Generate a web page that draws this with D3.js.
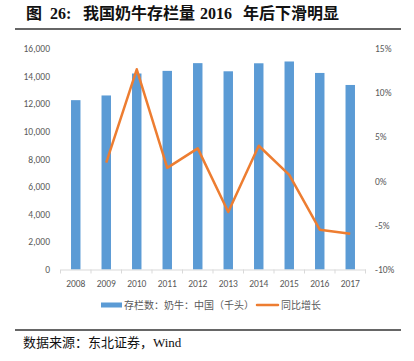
<!DOCTYPE html>
<html>
<head>
<meta charset="utf-8">
<script src="https://cdn.jsdelivr.net/npm/d3@7/dist/d3.min.js"></script>
<style>
  html, body { margin: 0; padding: 0; background: #fff; }
  svg { display: block; }
</style>
</head>
<body>
<div id="chart"></div>
<script>
// ---------- data ----------
const years = ["2008", "2009", "2010", "2011", "2012", "2013", "2014", "2015", "2016", "2017"];
const herd = [12260, 12600, 14190, 14380, 14940, 14350, 14930, 15060, 14230, 13360]; // 千头
const growth = [null, 2.1, 12.65, 1.5, 3.7, -3.5, 4.0, 0.7, -5.5, -5.95]; // %
const leftTicks = [0, 2000, 4000, 6000, 8000, 10000, 12000, 14000, 16000];
const rightTicks = [-10, -5, 0, 5, 10, 15];

const W = 414, H = 361;
const sansCJK = "'Microsoft YaHei', 'Noto Sans CJK SC', sans-serif";
const serifCJK = "'Liberation Serif', 'Times New Roman', 'Noto Sans CJK SC', serif";

const svg = d3.select("#chart").append("svg")
  .attr("width", W)
  .attr("height", H);

// ---------- title + rules ----------
const titleParts = [
  { x: 26, t: "图" },
  { x: 50, t: "26:" },
  { x: 83, t: "我国奶牛存栏量" },
  { x: 200, t: "2016" },
  { x: 243, t: "年后下滑明显" }
];
svg.append("g").selectAll("text")
  .data(titleParts)
  .enter()
  .append("text")
  .attr("x", d => d.x).attr("y", 19)
  .attr("font-family", serifCJK).attr("font-weight", "bold").attr("font-size", 16)
  .attr("fill", "#111").text(d => d.t);

svg.append("line").attr("x1", 15).attr("x2", 401).attr("y1", 29).attr("y2", 29)
  .attr("stroke", "#333").attr("stroke-width", 1.3);
svg.append("line").attr("x1", 15).attr("x2", 401).attr("y1", 330).attr("y2", 330)
  .attr("stroke", "#333").attr("stroke-width", 1.3);

svg.append("text").attr("x", 23).attr("y", 347)
  .attr("font-family", serifCJK).attr("font-size", 13)
  .attr("fill", "#111").text("数据来源：东北证券，Wind");

// ---------- scales ----------
const x = d3.scaleBand().domain(years).range([60.5, 365.5]).padding(0);
const yL = d3.scaleLinear().domain([0, 16000]).range([269.5, 48.5]);
const yR = d3.scaleLinear().domain([-10, 15]).range([269.5, 48.5]);
const barW = x.bandwidth() * 0.31;

// ---------- axes ----------
const axisColor = "#d9d9d9";
const labelColor = "#595959";

const left = svg.append("g").attr("transform", "translate(50,0)")
  .call(d3.axisLeft(yL).tickValues(leftTicks).tickSize(0).tickPadding(0)
    .tickFormat(d3.format(",")));
left.select(".domain").remove();
left.selectAll("text").attr("font-family", "Calibri, Carlito, 'Open Sans', sans-serif")
  .attr("font-size", 9.5).attr("fill", labelColor);

const right = svg.append("g").attr("transform", "translate(375,0)")
  .call(d3.axisRight(yR).tickValues(rightTicks).tickSize(0).tickPadding(0)
    .tickFormat(d => d + "%"));
right.select(".domain").remove();
right.selectAll("text").attr("font-family", "Calibri, Carlito, 'Open Sans', sans-serif")
  .attr("font-size", 9.5).attr("fill", labelColor);

// bars
svg.append("g").selectAll("rect")
  .data(herd)
  .enter()
  .append("rect")
  .attr("x", (d, i) => x(years[i]) + (x.bandwidth() - barW) / 2)
  .attr("y", d => yL(d))
  .attr("width", barW)
  .attr("height", d => yL(0) - yL(d))
  .attr("fill", "#5b9bd5");

// x axis line + boundary ticks
const bottom = svg.append("g").attr("transform", `translate(0,${yL(0)})`)
  .call(d3.axisBottom(x).tickSize(0).tickPadding(11).tickSizeOuter(0));
bottom.select(".domain").attr("stroke", axisColor);
bottom.selectAll("text").attr("font-family", "Calibri, Carlito, 'Open Sans', sans-serif")
  .attr("font-size", 9.5).attr("fill", labelColor);
bottom.selectAll("line.bound")
  .data(d3.range(years.length + 1))
  .enter()
  .append("line")
  .attr("class", "bound")
  .attr("x1", i => x.range()[0] + i * x.step())
  .attr("x2", i => x.range()[0] + i * x.step())
  .attr("y1", 0).attr("y2", 4)
  .attr("stroke", axisColor);

// growth line
const line = d3.line()
  .defined(d => d != null)
  .x((d, i) => x(years[i]) + x.bandwidth() / 2)
  .y(d => yR(d));

svg.append("path")
  .datum(growth)
  .attr("d", line)
  .attr("fill", "none")
  .attr("stroke", "#ed7d31")
  .attr("stroke-width", 2.5)
  .attr("stroke-linejoin", "round");

// ---------- legend ----------
const lg = svg.append("g").attr("font-family", sansCJK).attr("font-size", 10).attr("fill", labelColor);
lg.append("rect").attr("x", 101).attr("y", 302.5).attr("width", 21).attr("height", 5).attr("fill", "#5b9bd5");
lg.append("text").attr("x", 124).attr("y", 309).text("存栏数：奶牛：中国（千头）");
lg.append("line").attr("x1", 257).attr("x2", 278).attr("y1", 305).attr("y2", 305)
  .attr("stroke", "#ed7d31").attr("stroke-width", 2.5).attr("stroke-linecap", "round");
lg.append("text").attr("x", 281).attr("y", 309).text("同比增长");
</script>
</body>
</html>
